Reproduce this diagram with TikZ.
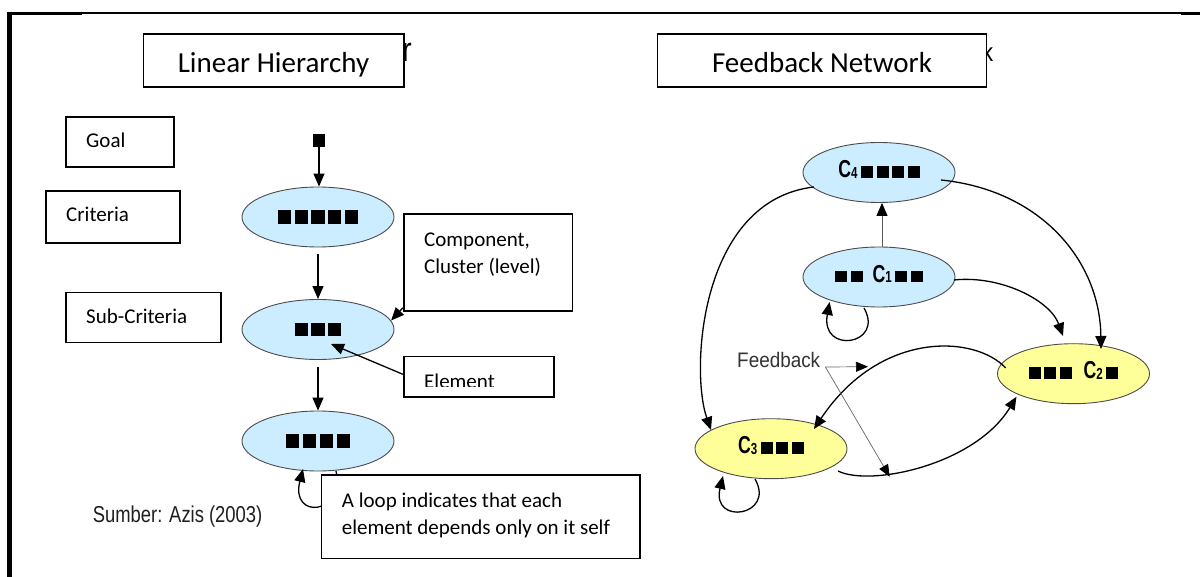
\documentclass[tikz,border=0pt]{standalone}
\usepackage{fontspec}
\setmainfont{Carlito}
\newfontfamily\cfont[FakeStretch=0.85]{Liberation Sans}
\newfontfamily\cbfont[FakeStretch=0.72]{Liberation Sans Bold}
\newfontfamily\afont[FakeStretch=0.8]{Liberation Sans}
\newfontfamily\bfont[FakeStretch=0.9]{Liberation Sans}
\usetikzlibrary{shapes.geometric,arrows.meta,calc}
\definecolor{lblue}{RGB}{204,236,255}
\definecolor{lyellow}{RGB}{255,255,153}
\newcommand\sq{\rule{13.3pt}{13.3pt}}
\newcommand\sqr{\rule{12pt}{11.5pt}}
\newcommand\gp{\hspace{3.5pt}}
\newcommand\Cs[1]{{\cbfont\fontsize{24.5}{25}\selectfont C\raisebox{-0.5pt}{\fontsize{16}{16}\selectfont #1}}}
\begin{document}
\begin{tikzpicture}[x=1pt,y=-1pt,
  box/.style={draw, line width=1.6pt, fill=white, inner sep=0pt},
  btxt/.style={font=\fontsize{21}{25}\selectfont, anchor=base west, inner sep=0pt},
  ttxt/.style={font=\fontsize{29}{34}\selectfont, anchor=base, inner sep=0pt},
  ell/.style={ellipse, draw=black!70, line width=0.9pt, minimum width=152pt, minimum height=60pt, inner sep=0pt},
  bell/.style={ell, fill=lblue},
  yell/.style={ell, fill=lyellow},
  cnode/.style={text height=17.5pt, text depth=7pt},
  conn/.style={-{Triangle[length=13pt,width=11pt]}, line width=1.3pt},
  gconn/.style={-{Triangle[length=13pt,width=11pt,color=black]}, draw=black!65, line width=1pt},
  fconn/.style={-{Triangle[length=12pt,width=10pt,color=black]}, draw=black!60, line width=0.7pt},
]
\path[use as bounding box, fill=white] (0,0) rectangle (1200,577);

% frame
\draw[line width=4.4pt] (9.5,12) -- (9.5,577);
\draw[line width=1.6pt] (7.3,12.8) -- (1200,12.8);
\fill (7.3,12) rectangle (82,15.3);
\fill (1181,12) rectangle (1200,15.3);

% fragments of hidden titles
\node[font=\cfont\fontsize{34}{34}\selectfont, anchor=base west, inner sep=0pt] (fr) at (402,62) {r};
\node[font=\cfont\fontsize{26}{26}\selectfont, anchor=base west, inner sep=0pt] (fk) at (982,62) {k};

% title boxes
\node[box, minimum width=260.5pt, minimum height=53.3pt] (lhbox) at (273.75,60.65) {};
\node[ttxt] (lht) at (273.5,73) {Linear Hierarchy};
\node[box, minimum width=329.1pt, minimum height=53.3pt] (fnbox) at (821.95,60.65) {};
\node[ttxt] (fnt) at (822,73) {Feedback Network};

% level labels
\node[box, minimum width=108.2pt, minimum height=50pt] (goal) at (119.9,142) {};
\node[btxt] (goalt) at (86,148) {Goal};
\node[box, minimum width=134pt, minimum height=52pt] (crit) at (113,217) {};
\node[btxt] (critt) at (66,222) {Criteria};
\node[box, minimum width=155pt, minimum height=50pt] (sub) at (143.3,317.7) {};
\node[btxt] (subt) at (86,324) {Sub-Criteria};

% linear hierarchy
\node[rectangle, fill=black, minimum width=12.6pt, minimum height=13pt, inner sep=0pt] (gsq) at (319,140.5) {};
\node[bell] (e1) at (318,217) {\sq\gp\sq\gp\sq\gp\sq\gp\sq};
\node[bell] (e2) at (318,329.5) {\sq\gp\sq\gp\sq};
\node[bell] (e3) at (318,441) {\sq\gp\sq\gp\sq\gp\sq};
\draw[conn] (gsq.south) -- (gsq.south |- e1.north);
\draw[conn] ($(e1.south)+(0,7)$) -- (e2.north);
\draw[conn] ($(e2.south)+(0,7)$) -- (e3.north);
\draw[conn] ($(e3)+(18,30)$) .. controls (345,515) and (290,520) .. ($(e3)+(-15,28)$);

% annotation boxes
\node[box, minimum width=168.8pt, minimum height=97pt] (comp) at (488.1,262.5) {};
\node[btxt] (compt1) at (424,246.5) {Component,};
\node[btxt] (compt2) at (424,274) {Cluster (level)};
\draw[conn] ($(comp.south west)+(0,-4)$) -- (e2.7);

\node[box, minimum width=150.3pt, minimum height=40pt] (elem) at (478.85,376.7) {};
\begin{scope}
\clip (404.5,357.5) rectangle (553,386.7);
\node[btxt] (elemt) at (424,388.5) {Element};
\end{scope}
\draw[conn] ($(elem.west)+(0,-2.4)$) -- ($(e2)+(13,14.5)$);

\node[box, minimum width=318.5pt, minimum height=83.3pt] (loopb) at (480.75,516.65) {};
\node[btxt] (loopt1) at (341.7,507) {A loop indicates that each};
\node[btxt] (loopt2) at (341.7,534) {element depends only on it self};

\node[font=\afont\fontsize{23}{26}\selectfont, text=black!88, anchor=base west, inner sep=0pt] (src) at (92.7,522.7) {Sumber: Azis (2003)};

% feedback network
\node[bell, cnode] (c4) at (879,172.5) {\Cs{4}\gp\sqr\gp\sqr\gp\sqr\gp\sqr};
\node[bell, cnode] (c1) at (879,277) {\sqr\gp\sqr\hspace{10pt}\Cs{1}\gp\sqr\gp\sqr};
\node[yell, cnode] (c2) at (1073.5,373.7) {\sqr\gp\sqr\gp\sqr\hspace{12pt}\Cs{2}\gp\sqr};
\node[yell, cnode] (c3) at (771,448.7) {\Cs{3}\gp\sqr\gp\sqr\gp\sqr};

\draw[gconn] ([xshift=3pt]c1.north) -- ([xshift=3pt]c4.south);
\draw[conn] ($(c4)+(-65,14.5)$) .. controls (700,200) and (690,370) .. ($(c3)+(-60,-18.7)$);
\draw[conn] ($(c4)+(62,7.5)$) .. controls (1040,190) and (1100,260) .. ($(c2)+(27.5,-24.7)$);
\draw[conn] ($(c1)+(75,3)$) .. controls (1000,275) and (1050,300) .. ($(c2)+(-10.5,-37.7)$);
\draw[conn] ($(c2)+(-67.8,-5.7)$) .. controls (975,335) and (880,330) .. ($(c3)+(43,-19.7)$);
\draw[conn] ($(c3)+(67,22.3)$) .. controls (870,487) and (975,465) .. ($(c2)+(-57,23)$);
\draw[conn] ($(c1)+(-15,31)$) .. controls (885,345) and (820,355) .. ($(c1)+(-49.4,25)$);
\draw[conn] ($(c3)+(-16,30.3)$) .. controls (776,516) and (711,526) .. ($(c3)+(-48,27.3)$);

\node[font=\bfont\fontsize{21}{24}\selectfont, text=black!80, anchor=base west, inner sep=0pt] (fb) at (737,367) {Feedback};
\coordinate (fbp) at ($(fb.base east)+(5,0)$);
\coordinate (fbt1) at (868,366.7);
\coordinate (fbt2) at (889.7,476.7);
\draw[fconn] (fbp) -- (fbt1);
\draw[fconn] (fbp) -- (fbt2);
\end{tikzpicture}
\end{document}
